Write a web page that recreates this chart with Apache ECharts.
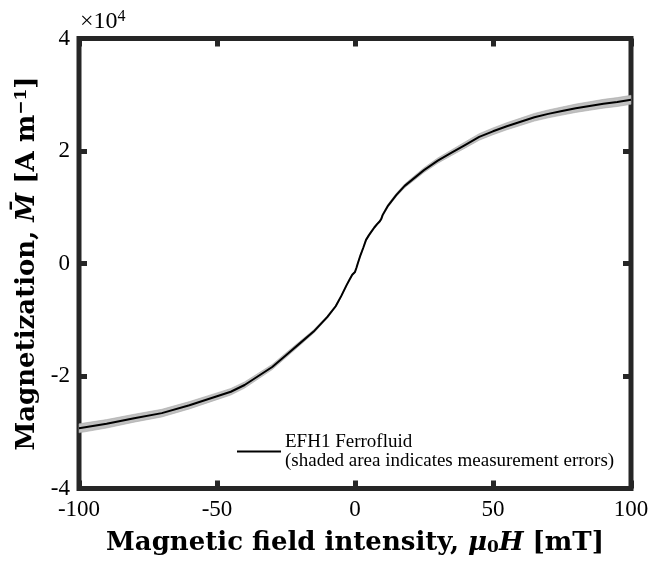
<!DOCTYPE html>
<html>
<head>
<meta charset="utf-8">
<script src="https://cdn.jsdelivr.net/npm/echarts@6/dist/echarts.min.js"></script>
<style>
  html, body { margin: 0; padding: 0; background: #fff; }
  #chart { width: 653px; height: 564px; }
</style>
</head>
<body>
<div id="chart"></div>
<script>
// field (mT)
const fieldH = [-100, -90, -80, -70, -60, -50, -45, -40, -35, -30, -25, -20, -15, -10, -7, -5, -3, -2, -1, 0,
  0.5, 1, 2, 3, 4, 5, 6, 7, 8, 9, 9.5, 10, 12, 15, 18, 20, 25, 30, 35, 40, 45, 50, 55, 60, 65, 70, 75, 80, 85, 90, 95, 100];
// magnetization, x 10^4 A/m
const magM = [-2.93, -2.85, -2.75, -2.66, -2.52, -2.36, -2.28, -2.16, -2.00, -1.84, -1.63, -1.42, -1.21, -0.95, -0.76, -0.58, -0.38, -0.29, -0.20, -0.15,
  -0.08, 0.0, 0.15, 0.28, 0.42, 0.50, 0.57, 0.64, 0.70, 0.75, 0.79, 0.86, 1.03, 1.22, 1.38, 1.46, 1.66, 1.83, 1.97, 2.11, 2.25, 2.35, 2.44, 2.52, 2.60, 2.66, 2.71, 2.76, 2.80, 2.84, 2.87, 2.91];
// measurement error (half width of shaded band)
const magErr = [0.08, 0.075, 0.07, 0.068, 0.065, 0.06, 0.058, 0.055, 0.05, 0.046, 0.042, 0.036, 0.03, 0.024, 0.02, 0.018, 0.015, 0.014, 0.013, 0.012,
  0.012, 0.012, 0.013, 0.014, 0.015, 0.016, 0.018, 0.019, 0.02, 0.022, 0.022, 0.024, 0.027, 0.03, 0.034, 0.036, 0.042, 0.046, 0.05, 0.055, 0.058, 0.06, 0.063, 0.065, 0.068, 0.07, 0.072, 0.074, 0.076, 0.078, 0.079, 0.08];
const xTicks = { min: -100, max: 100, step: 50 };
const yTicks = { min: -4, max: 4, step: 2 };

const serif = "'Liberation Serif', serif";
const wideSerif = "'DejaVu Serif', serif";
const frame = "#262626";

const pts = fieldH.map((h, i) => [h, magM[i]]);

const chart = echarts.init(document.getElementById("chart"));

const axisCommon = {
  type: "value",
  axisLine: { show: false, onZero: false },
  axisTick: { show: true, inside: true, length: 8, lineStyle: { color: frame, width: 5 } },
  splitLine: { show: false },
};

const titleStyle = {
  color: "#000", fontFamily: wideSerif, fontSize: 26, fontWeight: "bold",
  rich: {
    i: { fontFamily: wideSerif, fontSize: 26, fontWeight: "bold", fontStyle: "italic", color: "#000" },
    sub: { fontFamily: wideSerif, fontSize: 17, fontWeight: "bold", color: "#000", verticalAlign: "bottom", padding: [9, 0, 0, 0] },
    sup: { fontFamily: wideSerif, fontSize: 17, fontWeight: "bold", color: "#000", verticalAlign: "top", padding: [0, 0, 11, 0] },
  },
};

const option = {
  animation: false,
  grid: {
    left: 79, right: 22, top: 38.5, bottom: 75.5,
    show: true, borderWidth: 5, borderColor: frame, backgroundColor: "#fff",
  },
  legend: {
    left: 232, top: 427.5,
    icon: "rect", itemWidth: 44, itemHeight: 2, itemGap: 0,
    data: ["EFH1 Ferrofluid"],
    formatter: () => "EFH1 Ferrofluid\n(shaded area indicates measurement errors)",
    textStyle: { fontFamily: serif, fontSize: 19, color: "#000", lineHeight: 19, padding: [0, 0, 0, -1] },
  },
  graphic: [{
    type: "text", left: 80, top: 9,
    style: {
      text: "×10{s|4}",
      font: "24px " + serif, fill: "#000",
      rich: { s: { fontSize: 16, fontFamily: serif, verticalAlign: "top", padding: [0, 0, 10, 0] } },
    },
  }],
  xAxis: [
    Object.assign({}, axisCommon, {
      position: "bottom", min: xTicks.min, max: xTicks.max, interval: xTicks.step,
      axisLabel: { color: "#000", fontFamily: serif, fontSize: 23, margin: 10 },
      name: "Magnetic field intensity, {i|μ}{sub|0}{i|H} [mT]",
      nameLocation: "middle", nameGap: 42,
      nameTextStyle: titleStyle,
    }),
    Object.assign({}, axisCommon, {
      position: "top", min: xTicks.min, max: xTicks.max, interval: xTicks.step,
      axisLabel: { show: false },
    }),
  ],
  yAxis: [
    Object.assign({}, axisCommon, {
      position: "left", min: yTicks.min, max: yTicks.max, interval: yTicks.step,
      axisLabel: { color: "#000", fontFamily: serif, fontSize: 23, margin: 9 },
      name: "Magnetization, {i|M\u0304} [A m{sup|\u22121}]",
      nameLocation: "middle", nameGap: 37, nameRotate: 90,
      nameTextStyle: titleStyle,
    }),
    Object.assign({}, axisCommon, {
      position: "right", min: yTicks.min, max: yTicks.max, interval: yTicks.step,
      axisLabel: { show: false },
    }),
  ],
  series: [
    {
      name: "error band",
      type: "custom",
      data: pts,
      encode: { x: 0, y: 1 },
      silent: true,
      renderItem: function (params, api) {
        if (params.dataIndex !== 0) return null;
        const upper = fieldH.map((h, i) => api.coord([h, magM[i] + magErr[i]]));
        const lower = fieldH.map((h, i) => api.coord([h, magM[i] - magErr[i]])).reverse();
        return {
          type: "polygon",
          shape: { points: upper.concat(lower) },
          style: { fill: "#c0c0c0", stroke: "#a8a8a8", lineWidth: 0.6 },
        };
      },
      z: 1,
    },
    {
      name: "EFH1 Ferrofluid",
      type: "line",
      data: pts,
      showSymbol: false,
      lineStyle: { color: "#000", width: 2 },
      itemStyle: { color: "#000" },
      z: 2,
    },
  ],
};

chart.setOption(option);
</script>
</body>
</html>
